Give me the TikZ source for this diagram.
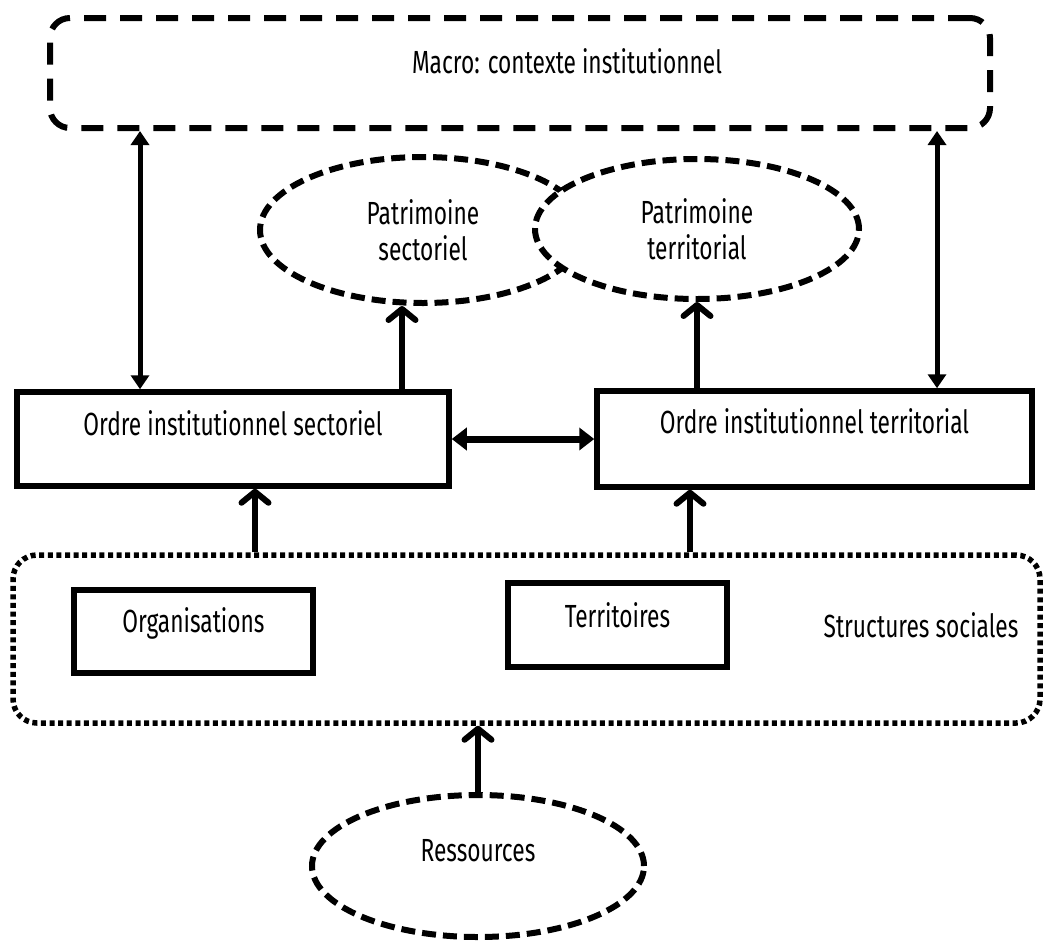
\documentclass[tikz,border=0pt]{standalone}
\usepackage{fontspec}
\setmainfont{Fira Sans}[FakeStretch=0.71]
\usetikzlibrary{arrows.meta,shapes.geometric}
\begin{document}
\begin{tikzpicture}[x=1pt,y=-1pt,
  font=\fontsize{32}{36}\selectfont,
  solidbox/.style={draw, rectangle, line width=5.5pt, inner sep=0pt},
  macrobox/.style={draw, rectangle, rounded corners=20pt, line width=6pt,
    dash pattern=on 22pt off 14pt, inner sep=0pt},
  dotbox/.style={draw, rectangle, rounded corners=24pt, line width=5.5pt,
    dash pattern=on 5pt off 3.6pt, inner sep=0pt},
  dashell/.style={draw, ellipse, line width=6pt, dash pattern=on 14pt off 7pt,
    fill=white, inner sep=0pt, align=center},
  upar/.style={line width=6pt, -{Straight Barb[round,length=11pt,width=27pt]}},
  dblv/.style={line width=5pt, {Triangle[length=14pt,width=18pt]}-{Triangle[length=14pt,width=18pt]}},
  dblh/.style={line width=7pt, {Triangle[length=15pt,width=22pt]}-{Triangle[length=15pt,width=22pt]}}
]
\fill[white] (0,0) rectangle (1043,940);
\useasboundingbox (0,0) rectangle (1043,940);

% top context
\node[macrobox, minimum width=940pt, minimum height=110pt, text height=55pt, text depth=55pt]
  (macro) at (520,73) {\hspace*{94pt}Macro: contexte institutionnel};

% patrimoines
\node[dashell, minimum width=326pt, minimum height=146pt] (ps) at (423,230) {Patrimoine\\sectoriel};
\node[dashell, minimum width=324pt, minimum height=140pt] (pt) at (697,229) {Patrimoine\\territorial};

% institutional orders
\node[solidbox, minimum width=432pt, text height=43pt, text depth=51pt]
  (os) at (233,439) {Ordre institutionnel sectoriel};
\node[solidbox, minimum width=435pt, text height=42pt, text depth=54pt]
  (ot) at (814.5,439) {Ordre institutionnel territorial};

% social structures
\node[dotbox, minimum width=1027pt, minimum height=168pt] (ss) at (526.5,639) {};
\node[solidbox, minimum width=239pt, text height=42pt, text depth=41pt]
  (org) at (193.5,631.5) {Organisations};
\node[solidbox, minimum width=219pt, text height=44pt, text depth=40pt]
  (ter) at (617.5,625) {Territoires};
\node[anchor=base, inner sep=0pt] (ssl) at (921,637) {Structures sociales};

% resources
\node[dashell, minimum width=332pt, minimum height=142pt, text height=22pt, text depth=32pt]
  (res) at (478,866) {Ressources};

% connector x positions
\coordinate (xl) at (140,0);
\coordinate (xr) at (937,0);
\coordinate (xa) at (402,0);
\coordinate (xb) at (255,0);
\coordinate (xc) at (690,0);

\draw[dblv] (macro.south -| xl) -- (os.north -| xl);
\draw[dblv] (macro.south -| xr) -- (ot.north -| xr);
\draw[dblh] (os.east) -- (ot.west);
\draw[upar] (os.north -| xa) -- (xa |- ps.south);
\draw[upar] (ot.north -| pt.south) -- (pt.south);
\draw[upar] (ss.north -| xb) -- (os.south -| xb);
\draw[upar] (ss.north -| xc) -- (ot.south -| xc);
\draw[upar] (res.north) -- (ss.south -| res.north);
\end{tikzpicture}
\end{document}
